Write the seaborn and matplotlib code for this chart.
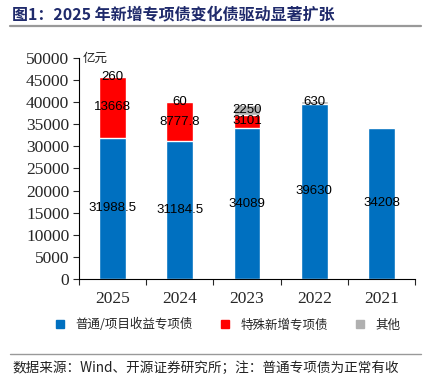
import numpy as np
import pandas as pd
import matplotlib
matplotlib.use("Agg")
import matplotlib.pyplot as plt
from matplotlib.lines import Line2D
import seaborn as sns

# 数据
years = ["2025", "2024", "2023", "2022", "2021"]
putong = [31988.5, 31184.5, 34089, 39630, 34208]
teshu = [13668, 8777.8, 3101, 0, 0]
qita = [260, 60, 2250, 630, 0]
blue_lbl = ["31988.5", "31184.5", "34089", "39630", "34208"]
red_lbl = ["13668", "8777.8", "3101", "", ""]
gray_lbl = ["260", "60", "2250", "630", ""]

sns.set_style("white")
plt.rcParams['font.family'] = ['Noto Sans CJK SC', 'DejaVu Sans']

df = pd.DataFrame({"year": years, "a": putong, "b": teshu, "c": qita})
df["ab"] = df["a"] + df["b"]
df["abc"] = df["ab"] + df["c"]

BLUE = "#0070C0"
RED = "#FF0000"
GRAY = "#B0B0B0"

fig = plt.figure(figsize=(4.31, 3.80), dpi=100)
ax = fig.add_axes([0.1833, 0.2658, 0.7797, 0.5816])

# 叠加画法: 先画总高, 再画较低的部分
sns.barplot(data=df, x="year", y="abc", color=GRAY, width=0.4, saturation=1, ax=ax)
sns.barplot(data=df, x="year", y="ab", color=RED, width=0.4, saturation=1, ax=ax)
sns.barplot(data=df, x="year", y="a", color=BLUE, width=0.4, saturation=1, ax=ax)

lab_font = dict(family=['Liberation Sans', 'DejaVu Sans'], fontsize=9.5, color="black",
                ha="center", va="center")
for i in range(len(years)):
    ax.text(i, df["a"][i] / 2, blue_lbl[i], **lab_font)
    if red_lbl[i]:
        ax.text(i, df["a"][i] + df["b"][i] / 2, red_lbl[i], **lab_font)
    if gray_lbl[i]:
        ax.text(i, df["ab"][i] + df["c"][i] / 2, gray_lbl[i], **lab_font)

ax.set_ylim(0, 50000)
ax.set_xlim(-0.5, 4.5)
ax.set_yticks(np.arange(0, 50001, 5000))
ax.set_xlabel("")
ax.set_ylabel("")
for s in ["top", "right"]:
    ax.spines[s].set_visible(False)
for s in ["left", "bottom"]:
    ax.spines[s].set_color("black")
    ax.spines[s].set_linewidth(0.8)

ax.tick_params(axis="y", which="major", direction="out", length=4, width=0.8, left=True,
               labelsize=12.5, pad=3)
ax.tick_params(axis="x", which="major", length=0, labelsize=12.5, pad=9)
ax.set_xticks(np.arange(-0.5, 5, 1), minor=True)
ax.tick_params(axis="x", which="minor", direction="out", length=4, width=0.8, bottom=True)
for t in ax.get_yticklabels() + ax.get_xticklabels():
    t.set_fontfamily(['Liberation Serif', 'DejaVu Serif'])

ax.text(0.01, 1.0, "亿元", transform=ax.transAxes, fontsize=9, style="italic",
        ha="left", va="center", color="#222222")

# 标题
fig.text(0.028, 0.963, "图1：2025 年新增专项债变化债驱动显著扩张", fontsize=11.5,
         fontweight="bold", color="#1F2A6B", ha="left", va="center")
fig.add_artist(Line2D([0.023, 0.977], [0.932, 0.932], color="#999999", linewidth=1.6))

# 图例
handles = [Line2D([], [], marker="s", linestyle="", markersize=6, color=c)
           for c in [BLUE, RED, GRAY]]
fig.legend(handles, ["普通/项目收益专项债", "特殊新增专项债", "其他"], ncol=3,
           loc="center", bbox_to_anchor=(0.52, 0.145), frameon=False, fontsize=9,
           handletextpad=0.2, columnspacing=1.6)

# 脚注
fig.add_artist(Line2D([0.023, 0.977], [0.068, 0.068], color="#999999", linewidth=1.0))
fig.text(0.028, 0.032, "数据来源：Wind、开源证券研究所；注：普通专项债为正常有收", fontsize=9.8,
         color="#222222", ha="left", va="center")

fig.savefig("out.png", dpi=100)
